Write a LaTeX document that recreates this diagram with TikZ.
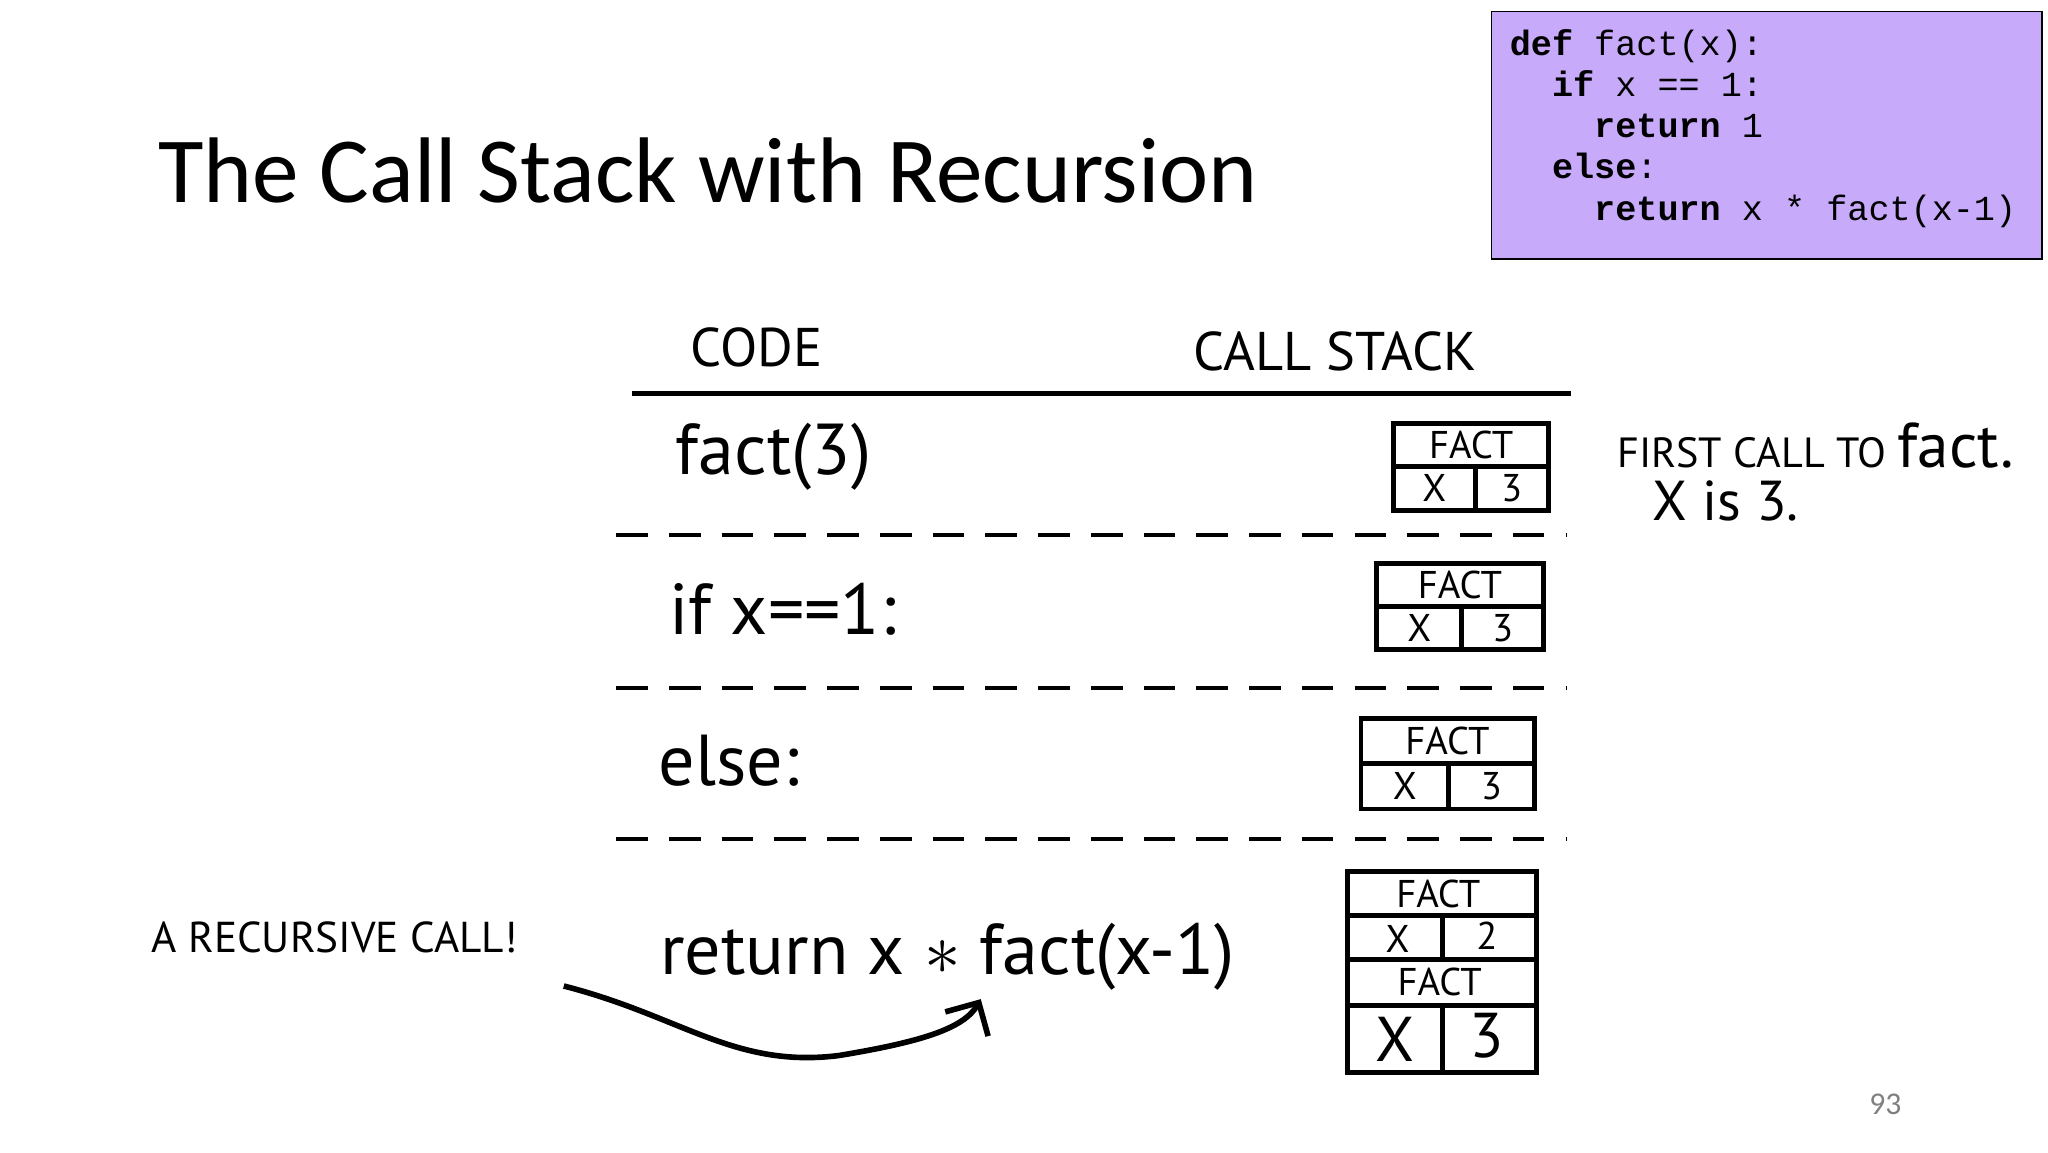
\documentclass[tikz,border=0pt]{standalone}
\usepackage{fontspec}
\setmainfont{Carlito}
\newfontfamily\hand{PT Sans}
\setmonofont{Liberation Mono}
\usetikzlibrary{arrows.meta}
\definecolor{codefill}{RGB}{200,170,250}
\tikzset{
    px/.style={x=0.01311cm, y=-0.01311cm},
    hw/.style={font=\hand\fontsize{20.5}{24}\selectfont, anchor=west, inner sep=0pt},
    caps/.style={font=\hand\fontsize{12.3}{15}\selectfont, anchor=west, inner sep=0pt},
    cell/.style={font=\hand\fontsize{11}{12}\selectfont, inner sep=0pt},
    frame/.style={draw, line width=1.4pt},
    sep/.style={line width=1.2pt, dash pattern=on 9pt off 6pt},
}
\begin{document}
\begin{tikzpicture}[px]
    \useasboundingbox (0,0) rectangle (1562,879);
    \node[anchor=west, inner sep=0pt, font=\fontsize{26.5}{30}\selectfont]
        (title) at (120,130) {The Call Stack with Recursion};
    % code box
    \node[draw, fill=codefill, anchor=north west, minimum width=420*0.01311cm,
        minimum height=189*0.01311cm, inner sep=0pt] (box) at (1137,8) {};
    \node[anchor=north west, align=left, inner sep=0pt,
        font=\ttfamily\fontsize{10}{11.7}\selectfont] (code) at (1151,22)
        {\textbf{def} fact(x):\\
        \ \ \textbf{if} x == 1:\\
        \ \ \ \ \textbf{return} 1\\
        \ \ \textbf{else}:\\
        \ \ \ \ \textbf{return} x * fact(x-1)};
    % headers
    \node[caps, font=\hand\fontsize{15.5}{18}\selectfont] (hcode) at (526,265) {CODE};
    \node[caps, font=\hand\fontsize{15.5}{18}\selectfont] (hstack) at (910,268) {CALL STACK};
    \draw[line width=1.4pt] (482,300) -- (1198,300);
    \foreach \y in {408,525,640}
        \draw[sep] (470,\y) -- (1195,\y);
    % code lines
    \node[hw] (l1) at (515,348) {fact(3)};
    \node[hw] (l2) at (510,465) {if x==1:};
    \node[hw] (l3) at (502,580) {else:};
    \node[hw] (l4) at (503,730) {return x $\ast$ fact(x-1)};
    % stack frames
    \foreach \l/\t/\r/\b/\v/\n in {1063/323/1181/389/1125/s1,
            1050/430/1177/495/1115/s2, 1038/548/1170/617/1105/s3} {
        \draw[frame] (\l,\t) rectangle (\r,\b);
        \draw[frame] (\l,{(\t+\b)/2}) -- (\r,{(\t+\b)/2});
        \draw[frame] (\v,{(\t+\b)/2}) -- (\v,\b);
        \node[cell] at ({(\l+\r)/2},{(3*\t+\b)/4}) {FACT};
        \node[cell] at ({(\l+\v)/2},{(\t+3*\b)/4}) {X};
        \node[cell] at ({(\v+\r)/2},{(\t+3*\b)/4}) {3};
    }
    \draw[frame] (1028,665) rectangle (1172,818);
    \foreach \y in {698,732,767}
        \draw[frame] (1028,\y) -- (1172,\y);
    \draw[frame] (1100,698) -- (1100,732);
    \draw[frame] (1100,767) -- (1100,818);
    \node[cell] at (1097,682) {FACT};
    \node[cell] at (1066,716) {X};
    \node[cell] at (1134,714) {2};
    \node[cell] at (1098,749) {FACT};
    \node[cell, font=\hand\fontsize{18}{20}\selectfont] at (1064,793) {X};
    \node[cell, font=\hand\fontsize{18}{20}\selectfont] at (1134,790) {3};
    % notes
    \node[caps, font=\hand\fontsize{12}{15}\selectfont] (first) at (1233,340)
        {FIRST CALL TO \fontsize{18}{20}\selectfont fact.};
    \node[caps, font=\hand\fontsize{16}{19}\selectfont] (xis) at (1260,382) {X is 3.};
    \node[caps] (rec) at (115,715) {A RECURSIVE CALL!};
    \coordinate (from) at (430,752);
    \coordinate (to) at (748,762);
    \draw[line width=1.6pt, -{Straight Barb[length=7pt]}] (from)
        .. controls (520,775) and (560,815) .. (640,805)
        .. controls (700,795) and (735,785) .. (to);
    \node[text=gray, font=\fontsize{9}{10}\selectfont] (page) at (1438,842) {93};
\end{tikzpicture}
\end{document}
